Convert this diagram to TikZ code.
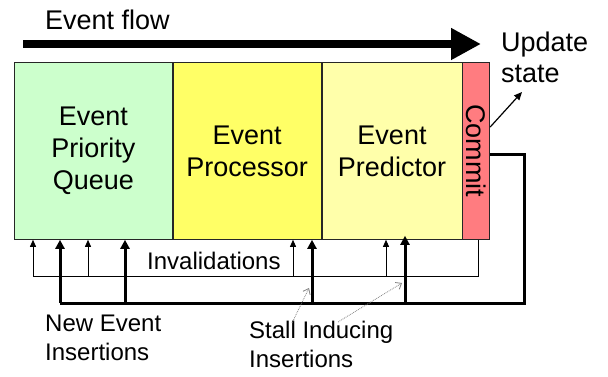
\documentclass[tikz,border=0pt]{standalone}
\usepackage{fontspec}
\setmainfont{Liberation Sans}
\usepackage{tikz}
\usetikzlibrary{arrows.meta,positioning,calc}
\definecolor{pqgreen}{RGB}{204,255,204}
\definecolor{procyellow}{RGB}{255,255,102}
\definecolor{predyellow}{RGB}{255,255,170}
\definecolor{commitred}{RGB}{255,124,128}

\begin{document}
\begin{tikzpicture}[x=1pt,y=-1pt,>=Triangle,
  stage/.style={draw=black!85,line width=0.8pt,anchor=north west,minimum height=177pt,
    inner sep=0pt,align=center,font=\fontsize{27}{32}\selectfont},
  lbl/.style={inner sep=0pt,align=left,font=\fontsize{24}{29}\selectfont},
  bigtxt/.style={inner sep=0pt,align=left,font=\fontsize{27}{31}\selectfont},
  invline/.style={line width=0.8pt},
  insline/.style={line width=3pt},
  note/.style={densely dotted,gray,line width=0.8pt,-{Straight Barb[length=5pt,width=8pt]}}]
  \useasboundingbox (0,0) rectangle (608,377);
  % pipeline stages
  \node[stage,fill=pqgreen,minimum width=158pt] (pq) at (14,62) {Event\\Priority\\Queue};
  \node[stage,fill=procyellow,minimum width=148pt] (proc) at (pq.north east) {Event\\Processor};
  \node[stage,fill=predyellow,minimum width=140pt] (pred) at (proc.north east) {Event\\Predictor};
  \node[stage,fill=commitred,minimum width=27pt] (cm) at (pred.north east) {};
  \node[rotate=-90,font=\fontsize{27}{32}\selectfont,inner sep=0pt] (cmtxt) at (cm.center) {Commit};
  % event flow
  \coordinate (flowL) at (23,44);  \coordinate (flowR) at (481,44);
  \draw[line width=8pt,-{Triangle[length=30pt,width=30pt]}] (flowL) -- (flowR);
  \node[bigtxt,anchor=base west] (flow) at (45,30) {Event flow};
  \node[bigtxt,anchor=north west] (upd) at (501,32) {Update\\state};
  \draw[->,line width=1.2pt,-{Triangle[length=8pt,width=7pt]}] (cm.east |- 0,127) -- (522,92);
  % invalidations bus
  \coordinate (invR) at (478,276);  \coordinate (invL) at (33,276);
  \draw[invline] (cm.south -| invR) -- (invR) -- (invL);
  \foreach \x in {33,88,293,386}{
    \coordinate (i\x) at (\x,276);
    \draw[invline,-{Triangle[length=7pt,width=6pt]}] (i\x) -- (i\x |- pq.south);
  }
  \node[lbl,anchor=base west] (inv) at (147,269) {Invalidations};
  % insertions bus
  \coordinate (cmR) at (524,155);  \coordinate (insR) at (524,303);  \coordinate (insL) at (60,303);
  \draw[insline] (cm.east |- cmR) -- (cmR) -- (insR) -- (insL);
  \foreach \x in {60,125,312}{
    \coordinate (n\x) at (\x,303);
    \draw[insline,-{Triangle[length=9pt,width=9pt]}] (n\x) -- (n\x |- pq.south);
  }
  \coordinate (n405) at (405,303);
  \draw[insline,-{Triangle[length=9pt,width=9pt]}] (n405) -- ([yshift=4pt]n405 |- pq.south);
  % labels
  \node[lbl,anchor=north west] (newins) at (45,315) {New Event\\Insertions};
  \node[lbl,anchor=north west] (stall) at (249,321) {Stall Inducing\\Insertions};
  \draw[note] ($(stall.north west)+(43,2)$) -- ($(n312)+(-3,-15)$);
  \draw[note] ($(stall.north west)+(89,1)$) -- ($(n405)+(-3,-20)$);
\end{tikzpicture}
\end{document}
